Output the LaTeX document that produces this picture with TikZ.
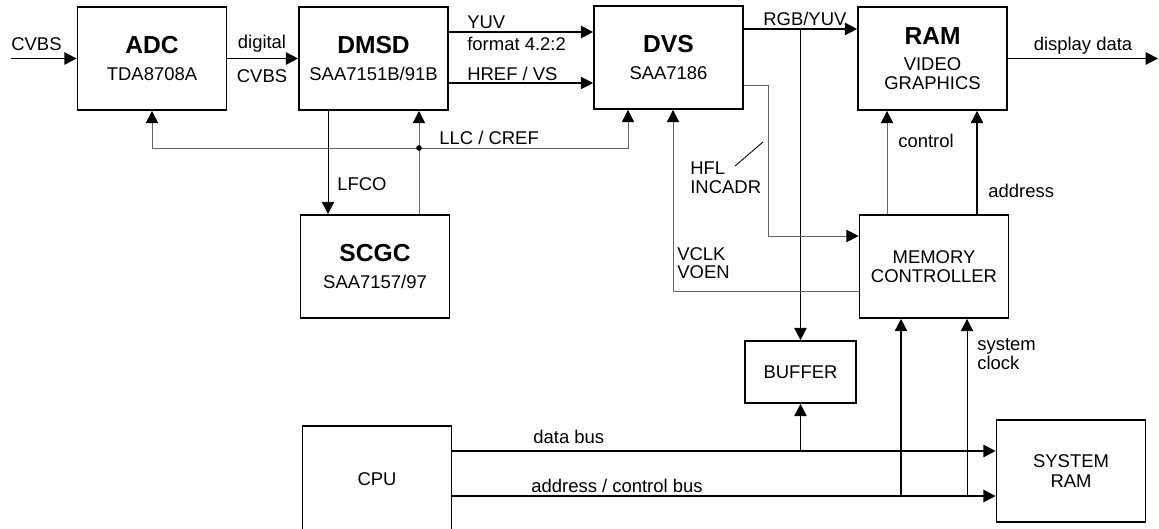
\documentclass[tikz,border=0pt]{standalone}
\usepackage{fontspec}
\setmainfont{Liberation Sans}
\usetikzlibrary{arrows.meta}
\tikzset{
  video graph/.style={
    x=0.02cm, y=-0.02cm,
    font=\fontsize{10.5}{11}\selectfont,
  },
  block/.style={
    draw, line width=1pt, inner sep=0pt, align=center,
    minimum width=2.98cm, minimum height=2.06cm
  },
  small block/.style={
    block, minimum width=2.22cm, minimum height=1.24cm
  },
  tip/.style={
    -{Triangle[length=7pt,width=7pt,color=black]}
  },
  bus/.style={
    tip, line width=1.1pt,
  },
  href/.style={
    tip, line width=0.75pt,
  },
  sig/.style={
    tip, line width=0.5pt,
  },
  ctl/.style={
    tip, line width=0.55pt, black!60,
  },
  lab/.style={
    inner sep=0pt, anchor=base west
  },
  lab c/.style={
    inner sep=0pt, anchor=base
  },
}
\newcommand{\chipname}[1]{{\fontsize{14}{14}\selectfont\bfseries #1}\\[4pt]}

\begin{document}
\begin{tikzpicture}[video graph]
  \clip (0,0) rectangle (1159,528);
  \node[block] (adc) at (152,58.5) {\chipname{ADC}TDA8708A};
  \node[block] (dmsd) at (373.5,58.5) {\chipname{DMSD}SAA7151B/91B};
  \node[block] (dvs) at (668.5,57.5) {\chipname{DVS}SAA7186};
  \node[block] (ram) at (932.5,58.5) {\chipname{RAM}VIDEO\\GRAPHICS};
  \node[block] (scgc) at (375,266.5) {\chipname{SCGC}SAA7157/97};
  \node[block] (memctl) at (934,266.5) {MEMORY\\CONTROLLER};
  \node[small block] (buffer) at (800.5,372) {BUFFER};
  \node[block, minimum height=2.12cm] (cpu) at (377,479) {CPU};
  \node[block, minimum height=2.04cm] (sysram) at (1071,471) {SYSTEM\\RAM};
  \coordinate (cvbs) at (11,58.5);
  \coordinate (disp) at (1158,58.5);
  \coordinate (llc) at (419,148);

  % video path
  \draw[bus] (cvbs) -- (adc.west);
  \draw[bus] (adc) -- (dmsd);
  \draw[bus] (dmsd.east |- 0,32) -- (dvs.west |- 0,32);
  \draw[href] (dmsd.east |- 0,83) -- (dvs.west |- 0,83);
  \draw[bus] (dvs.east |- 0,29) -- (ram.west |- 0,29);
  \draw[bus] (buffer.north |- 0,29) -- (buffer.north);
  \draw[bus] (ram) -- (disp);

  % clocks
  \draw[ctl] (llc) -| (adc.south);
  \draw[ctl] (llc) -| (628,0 |- dvs.south);
  \draw[ctl] (llc |- scgc.north) -- (llc |- dmsd.south);
  \fill (llc) circle[radius=1.6pt];
  \draw[sig] (328,0 |- dmsd.south) -- (328,0 |- scgc.north);

  % memory controller
  \draw[ctl] (dvs.east |- 0,85) -| (768,236) -- (memctl.west |- 0,236);
  \draw[line width=0.5pt] (735,166) -- (763,142);
  \draw[ctl] (memctl.west |- 0,291) -| (673,0 |- dvs.south);
  \draw[ctl] (887,0 |- memctl.north) -- (887,0 |- ram.south);
  \draw[bus] (977,0 |- memctl.north) -- (977,0 |- ram.south);

  % cpu buses
  \draw[bus] (cpu.east |- 0,451) -- (sysram.west |- 0,451);
  \draw[bus] (buffer.south |- 0,451) -- (buffer.south);
  \draw[bus] (cpu.east |- 0,496) -- (sysram.west |- 0,496);
  \draw[bus] (901,496) -- (901,0 |- memctl.south);
  \draw[sig] (967,496) -- (967,0 |- memctl.south);

  \node[lab] at (11,50) {CVBS};
  \node[lab c] at (262,48) {digital};
  \node[lab c] at (262,82) {CVBS};
  \node[lab] at (467,28) {YUV};
  \node[lab] at (467,50) {format 4.2:2};
  \node[lab] at (467,80) {HREF / VS};
  \node[lab] at (439,144) {LLC / CREF};
  \node[lab] at (337,190) {LFCO};
  \node[lab] at (763,25) {RGB/YUV};
  \node[lab c] at (1083,50) {display data};
  \node[lab] at (690,174) {HFL};
  \node[lab] at (690,193) {INCADR};
  \node[lab] at (898,147) {control};
  \node[lab] at (988,197) {address};
  \node[lab] at (677,260) {VCLK};
  \node[lab] at (677,278) {VOEN};
  \node[lab] at (977,350) {system};
  \node[lab] at (977,369) {clock};
  \node[lab] at (533,443) {data bus};
  \node[lab] at (531,492) {address / control bus};
\end{tikzpicture}
\end{document}
